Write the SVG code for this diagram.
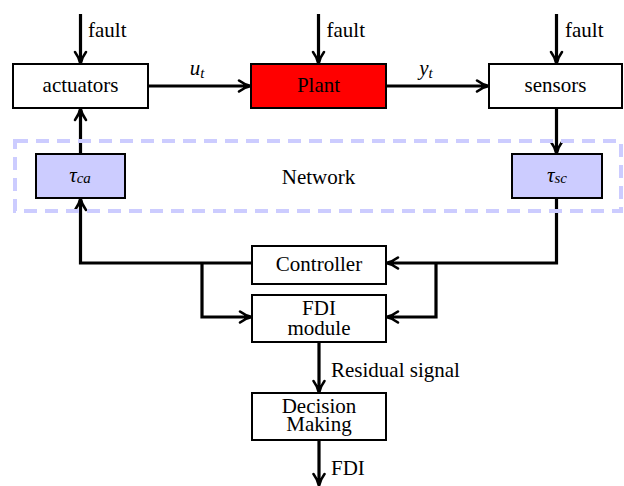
<svg xmlns="http://www.w3.org/2000/svg" width="624" height="486" viewBox="0 0 624 486">
<style>
.box{stroke:#000;stroke-width:2;fill:#fff}
.tau{stroke:#000;stroke-width:2;fill:#ccccff}
.t{font-family:"Liberation Serif","Times New Roman",serif;font-size:21px;fill:#000}
.m{font-family:"Liberation Serif","Times New Roman",serif;font-style:italic;fill:#000}
.c{stroke:#000;stroke-width:3.2;fill:none;marker-end:url(#ah)}
</style>
<defs>
<marker id="ah" markerUnits="userSpaceOnUse" markerWidth="30" markerHeight="30" refX="0" refY="0" orient="auto" overflow="visible">
<path d="M-10,-5.5 Q-4,-1 2,0 Q-4,1 -10,5.5" fill="none" stroke="#000" stroke-width="2.6" stroke-linecap="round" stroke-linejoin="round"/>
<path d="M-6,-2.8 Q-2,-0.6 2,0 Q-2,0.6 -6,2.8 Z" fill="#000"/>
</marker>
</defs>
<g id="connectors">
<path class="c" d="M80.5,14 V62"/>
<path class="c" d="M318.5,14 V62"/>
<path class="c" d="M556.5,14 V62"/>
<path class="c" d="M148,86 H249"/>
<path class="c" d="M386,86 H487"/>
<path class="c" d="M80.5,154 V110"/>
<path class="c" d="M556.5,108 V152"/>
<path class="c" d="M252,263 H80.5 V200"/>
<path class="c" d="M556.5,198 V263 H388"/>
<path class="c" d="M202,263 V317 H250"/>
<path class="c" d="M436,263 V317 H388"/>
<path class="c" d="M319,342 V391"/>
<path class="c" d="M319,440 V484"/>
</g>
<g id="labels">
<text class="t" x="88" y="37">fault</text>
<text class="t" x="326.5" y="37">fault</text>
<text class="t" x="565" y="37">fault</text>
<text class="m" x="197" y="75" text-anchor="middle" font-size="21">u<tspan font-size="15" dy="3">t</tspan></text>
<text class="m" x="426" y="75" text-anchor="middle" font-size="21">y<tspan font-size="15" dy="3">t</tspan></text>
<text class="t" x="331" y="377">Residual signal</text>
<text class="t" x="331" y="475">FDI</text>
</g>
<g id="actuators">
<rect class="box" x="13" y="64" width="135" height="44"/>
<text class="t" x="80.5" y="92" text-anchor="middle">actuators</text>
</g>
<g id="plant">
<rect class="box" x="251" y="64" width="135" height="44" fill="#ff0000" style="fill:#ff0000"/>
<text class="t" x="318.5" y="92" text-anchor="middle">Plant</text>
</g>
<g id="sensors">
<rect class="box" x="489" y="64" width="133" height="44"/>
<text class="t" x="555.5" y="92" text-anchor="middle">sensors</text>
</g>
<g id="tau_ca">
<rect class="tau" x="36" y="154" width="89" height="44"/>
<text class="m" x="80" y="182" text-anchor="middle" font-size="21">τ<tspan font-size="15" dy="1">ca</tspan></text>
</g>
<g id="tau_sc">
<rect class="tau" x="512" y="154" width="90" height="44"/>
<text class="m" x="557" y="182" text-anchor="middle" font-size="21">τ<tspan font-size="15" dy="1">sc</tspan></text>
</g>
<g id="controller">
<rect class="box" x="252" y="246" width="134" height="38"/>
<text class="t" x="319" y="271" text-anchor="middle">Controller</text>
</g>
<g id="fdi">
<rect class="box" x="252" y="295" width="134" height="47"/>
<text class="t" x="319" y="315" text-anchor="middle">FDI</text>
<text class="t" x="319" y="335" text-anchor="middle">module</text>
</g>
<g id="decision">
<rect class="box" x="252" y="393" width="134" height="47"/>
<text class="t" x="319" y="413" text-anchor="middle">Decision</text>
<text class="t" x="319" y="431" text-anchor="middle">Making</text>
</g>
<g id="network">
<rect x="15" y="141" width="606" height="70" fill="none" stroke="#ccccff" stroke-width="4" stroke-dasharray="13 8"/>
<text class="t" x="318.5" y="184" text-anchor="middle">Network</text>
</g>
</svg>
